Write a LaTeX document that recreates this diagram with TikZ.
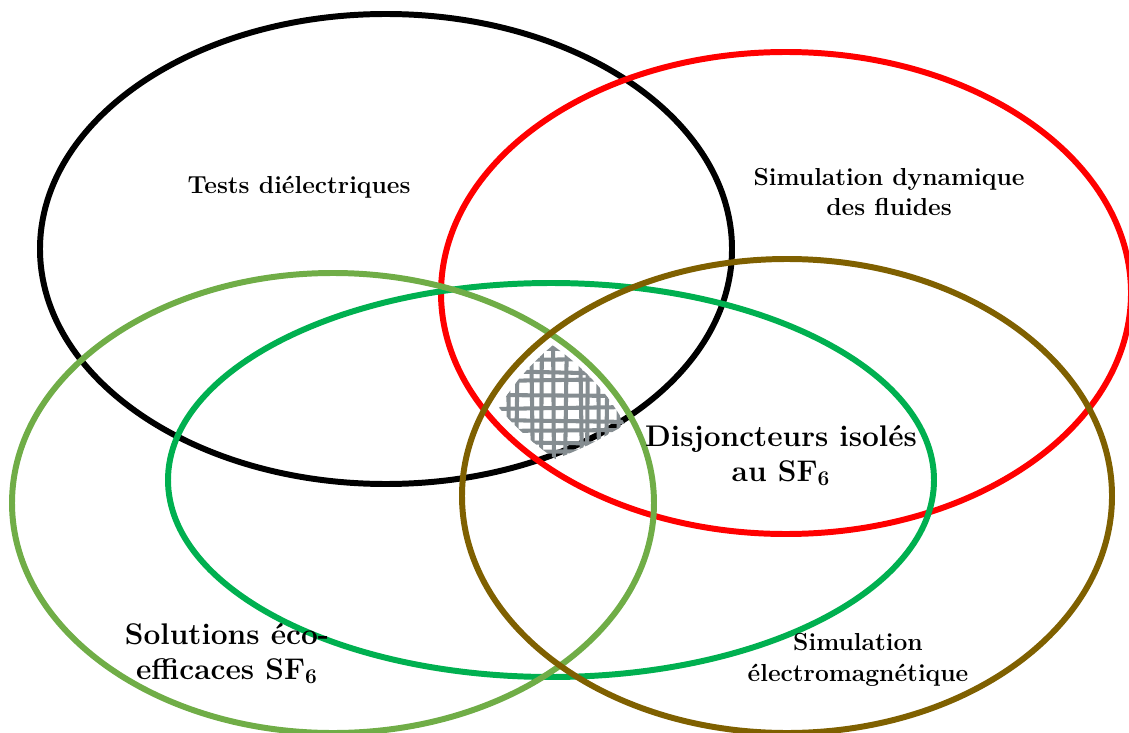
\documentclass[tikz,border=0pt]{standalone}
\usepackage{fontspec}
\usepackage{tikz}
\definecolor{rouge}{HTML}{FF0000}
\definecolor{vertclair}{HTML}{70AD47}
\definecolor{vert}{HTML}{00B050}
\definecolor{brun}{HTML}{7F6000}
\definecolor{gris}{HTML}{858D91}
\tikzset{ring/.style={line width=3.4pt},
  hatchline/.style={gris, line width=2.3pt, line cap=round},
  label1/.style={font=\bfseries\fontsize{14}{17.6}\selectfont, align=center, inner sep=0pt},
  label2/.style={font=\bfseries\fontsize{17}{19.5}\selectfont, align=center, inner sep=0pt}}

\begin{document}
\begin{tikzpicture}[x=0.02cm,y=-0.02cm]
\useasboundingbox (0,0) rectangle (1129,733);
\draw[ring,black] (386,249) ellipse [x radius=346,y radius=235];
\draw[ring,rouge] (786,293) ellipse [x radius=345,y radius=241];
\draw[ring,vert] (551,480) ellipse [x radius=383,y radius=197];
\draw[ring,vertclair] (333,503) ellipse [x radius=321,y radius=230];
\draw[ring,brun] (787,496) ellipse [x radius=325,y radius=237];
% zone commune
\begin{scope}
    \clip (386,249) ellipse [x radius=350,y radius=240];
    \clip (786,293) ellipse [x radius=330,y radius=232];
    \clip (333,503) ellipse [x radius=312,y radius=222];
    \clip (787,496) ellipse [x radius=312,y radius=228];
    \foreach \x/\d in {508/1,518/-2,531/2,542/-1,553/1,567/-2,580/2,588/-1,598/1,608/-2,618/1}
        \draw[hatchline] (\x,330) -- (\x+\d,470);
    \foreach \y/\d in {348/2,360/-1,371/3,381/-2,395/1,409/-2,420/2,431/-1,442/2,452/-1,461/1}
        \draw[hatchline] (490,\y) -- (630,\y+\d);
\end{scope}
\begin{scope}[every node/.style={label1}]
    \node (tests) at (299,187) {Tests diélectriques};
    \node (cfd) at (889,192) {Simulation dynamique\\des fluides};
    \node[label2] (eco) at (227,654) {Solutions éco-\\efficaces SF\textsubscript{6}};
    \node (em) at (858,660) {Simulation\\électromagnétique};
    \node[label2] (disj) at (781,456) {Disjoncteurs isolés\\au SF\textsubscript{6}};
\end{scope}
\end{tikzpicture}
\end{document}
